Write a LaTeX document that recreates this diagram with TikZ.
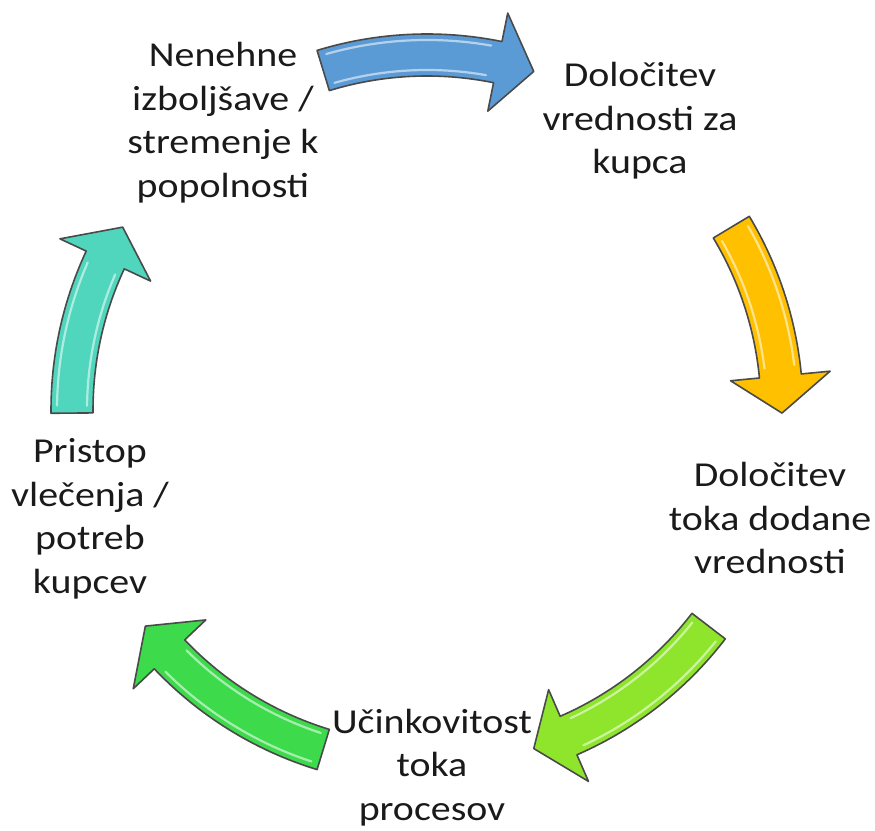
\documentclass[tikz,border=0pt]{standalone}
\usepackage{fontspec}
\setmainfont{Carlito}[FakeStretch=1.14]
\definecolor{cblue}{HTML}{5B9BD5}
\definecolor{cyellow}{HTML}{FFC000}
\definecolor{clime}{HTML}{8EE52C}
\definecolor{cgreen}{HTML}{3DDA4C}
\definecolor{cteal}{HTML}{4FD6BC}
\definecolor{ctext}{HTML}{1A1A1A}
\definecolor{cedge}{HTML}{4A4A4A}
\newcommand\Rm{355pt}
\newcommand\Ro{376pt}
\newcommand\Ri{334pt}
\newcommand\Rh{405pt}
\newcommand\Rl{305pt}
\newcommand\Rhi{370pt}
\newcommand\Rli{340pt}
\newcommand\cycarrow[3]{%
  \pgfmathsetmacro\hb{#3+6}%
  \pgfmathsetmacro\ta{#2-1.2}%
  \pgfmathsetmacro\tb{\hb+1.5}%
  \path[arrowshape, fill=#1]
    (#2:\Ro) arc[start angle=#2, end angle=\hb, radius=\Ro]
    -- (\hb:\Rh) -- (#3:\Rm) -- (\hb:\Rl) -- (\hb:\Ri)
    arc[start angle=\hb, end angle=#2, radius=\Ri] -- cycle;
  \draw[gloss] (\ta:\Rhi) arc[start angle=\ta, end angle=\tb, radius=\Rhi];
  \draw[gloss] (\ta:\Rli) arc[start angle=\ta, end angle=\tb, radius=\Rli];
}
\begin{document}
\begin{tikzpicture}[x=1pt,y=1pt,
  arrowshape/.style={draw=cedge, line width=1.6pt, line join=round},
  gloss/.style={draw=white, line width=2.2pt, opacity=0.55, line cap=round},
  lbl/.style={align=center, anchor=base, inner sep=0pt, text=ctext,
    font=\fontsize{35}{43.5}\selectfont}]
\useasboundingbox (0,0) rectangle (875,830);
\begin{scope}[shift={(427,420)}]
  \cycarrow{cblue}{107}{72.5}
  \cycarrow{cyellow}{31}{-0.5}
  \cycarrow{clime}{-37.5}{-72.5}
  \cycarrow{cgreen}{-107}{-142.5}
  \cycarrow{cteal}{180.5}{149}
\end{scope}
\node[lbl] (kaizen) at (223,632.5) {Nenehne\\izboljšave /\\stremenje k\\popolnosti};
\node[lbl] (value) at (640,656) {Določitev\\vrednosti za\\kupca};
\node[lbl] (stream) at (770,256) {Določitev\\toka dodane\\vrednosti};
\node[lbl] (flow) at (432,10) {Učinkovitost\\toka\\procesov};
\node[lbl] (pull) at (90,236.5) {Pristop\\vlečenja /\\potreb\\kupcev};
\end{tikzpicture}
\end{document}
